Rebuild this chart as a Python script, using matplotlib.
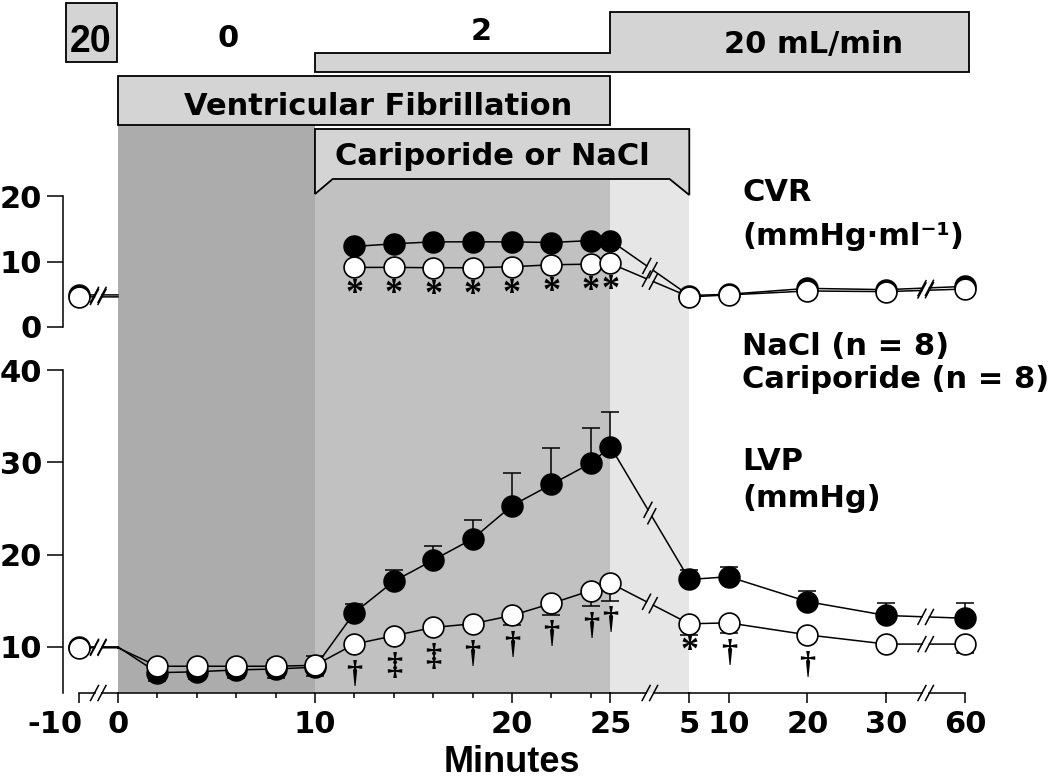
import matplotlib
matplotlib.use("Agg")
import matplotlib.pyplot as plt
import numpy as np
from matplotlib import font_manager
from matplotlib.patches import Polygon, Rectangle

nan = float("nan")

# sampling times, minutes (baseline, VF/CPR, recovery after defibrillation)
base_time = -10
vf_times = [2, 4, 6, 8, 10, 12, 14, 16, 18, 20, 22, 24, 25]
rec_times = [5, 10, 20, 30, 60]

# coronary vascular resistance (no flow, no CVR during 2-10 min)
cvr_nacl_base, cvr_cari_base = 4.9, 4.6
cvr_nacl_vf = [nan] * 5 + [12.3, 12.7, 13.0, 13.0, 13.0, 12.9, 13.2, 13.2]
cvr_cari_vf = [nan] * 5 + [9.1, 9.1, 9.05, 9.05, 9.2, 9.5, 9.6, 9.7]
cvr_nacl_rec = [4.8, 5.0, 5.9, 5.7, 6.2]
cvr_cari_rec = [4.6, 4.9, 5.5, 5.4, 5.8]
cvr_sig_vf = [""] * 5 + ["*"] * 8

# left ventricular pressure
lvp_nacl_base, lvp_cari_base = 10.0, 9.9
lvp_nacl_vf = [7.2, 7.3, 7.5, 7.6, 7.8, 13.7, 17.1, 19.4, 21.7, 25.3, 27.6, 29.9, 31.7]
lvp_cari_vf = [7.9, 7.9, 7.9, 7.9, 8.0, 10.3, 11.2, 12.1, 12.5, 13.4, 14.7, 16.1, 16.9]
lvp_nacl_rec = [17.3, 17.6, 14.9, 13.4, 13.1]
lvp_cari_rec = [12.5, 12.6, 11.3, 10.3, 10.3]
# SEM, one-sided as drawn in the original
lvp_nacl_lo_vf = [0.9, 0.8, 0.9, 1.0, 1.0] + [0] * 8
lvp_nacl_hi_vf = [0] * 5 + [0.9, 1.2, 1.55, 2.1, 3.5, 3.9, 3.8, 3.8]
lvp_nacl_hi_rec = [1.0, 1.1, 1.1, 1.4, 1.7]
lvp_cari_hi_vf = [0.3, 0.4, 0.6, 0.7, 1.0] + [0] * 8
lvp_cari_lo_vf = [0] * 9 + [1.0, 1.2, 1.7, 1.9]
lvp_cari_lo_rec = [1.2, 1.1, 0, 0, 1.0]
lvp_sig_vf = [""] * 5 + ["\u2020", "\u2021", "\u2021", "\u2020", "\u2020", "\u2020", "\u2020", "\u2020"]
lvp_sig_rec = ["*", "\u2020", "\u2020", "", ""]

xtick_vf = [0, 10, 20, 25]
xminor_vf = [2, 4, 6, 8, 12, 14, 16, 18, 22, 24]

W, H = 1050, 781
BREAKS = [-1.0, 27.0, 41.0]
XLIM = (-2.79, 44.01)

plt.rcParams["font.family"] = "DejaVu Sans"
plt.rcParams["font.weight"] = "bold"
names = {f.name for f in font_manager.fontManager.ttflist}
NARROW = "Liberation Sans Narrow" in names


def tpos(t, phase):
    # -10 sits before the first axis break; recovery runs on its own compressed scale
    if phase == "base":
        return -2.0
    if phase == "vf":
        return float(t)
    return 27.0 + 0.4 * min(t, 40)


def series(base, vf, rec):
    xs = [tpos(base_time, "base"), 0.0] + [tpos(t, "vf") for t in vf_times] + [tpos(t, "rec") for t in rec_times]
    ys = [base, base] + list(vf) + list(rec)
    return np.array(xs), np.array(ys, float)


def slash(ax, x, y):
    T = ax.transData
    p = T.transform((x, y))
    d = 8.5 * np.array([np.cos(np.radians(62)), np.sin(np.radians(62))])
    pts = T.inverted().transform([p - d, p + d])
    ax.plot(pts[:, 0], pts[:, 1], color="black", lw=1.1, zorder=2, clip_on=False)


def broken_line(ax, xs, ys, gap=7.5, lw=1.1):
    T = ax.transData
    sx, sy = [], []
    for i in range(len(xs) - 1):
        x0, y0, x1, y1 = xs[i], ys[i], xs[i + 1], ys[i + 1]
        if not (np.isfinite(y0) and np.isfinite(y1)):
            continue
        mid = 0.5 * (x0 + x1)
        if any(abs(mid - b) < 1e-6 for b in BREAKS):
            p0, p1 = T.transform((x0, y0)), T.transform((x1, y1))
            f = gap / 2 / np.hypot(*(p1 - p0))
            for a, b in ((0, 0.5 - f), (0.5 + f, 1)):
                sx += [x0 + (x1 - x0) * a, x0 + (x1 - x0) * b, nan]
                sy += [y0 + (y1 - y0) * a, y0 + (y1 - y0) * b, nan]
            for a in (0.5 - f, 0.5 + f):
                slash(ax, x0 + (x1 - x0) * a, y0 + (y1 - y0) * a)
        else:
            sx += [x0, x1, nan]
            sy += [y0, y1, nan]
    ax.plot(sx, sy, color="black", lw=lw, zorder=2, clip_on=False)


def markers(ax, xs, ys, filled):
    keep = [0] + list(range(2, len(xs)))
    ax.plot(xs[keep], ys[keep], "o", ms=15, mfc="black" if filled else "white",
            mec="black", mew=1.2, zorder=4 if filled else 5, clip_on=False)


def sig(ax, xs, ys, lo, syms):
    per_unit = ax.transData.transform((0, 1))[1] - ax.transData.transform((0, 0))[1]
    for x, y, e, s in zip(xs, ys, lo, syms):
        if not s:
            continue
        low = max(10.5, e * per_unit)
        if s == "*":
            ax.annotate(s, (x, y), xytext=(0, -(low + 17) * 0.72), textcoords="offset points",
                        ha="center", va="center", fontsize=26, family="Liberation Serif",
                        fontweight="bold", zorder=6)
        else:
            ax.annotate(s, (x, y), xytext=(0, -(low + 20) * 0.72), textcoords="offset points",
                        ha="center", va="center", fontsize=23, family="Liberation Serif",
                        fontweight="bold", zorder=6)


fig = plt.figure(figsize=(W / 100, H / 100), dpi=100)
left, width = 63 / W, (985 - 63) / W

# background layer: x in axis positions, y in pixels from the top
bg = fig.add_axes([left, 0, width, 1], zorder=0)
bg.set_xlim(*XLIM)
bg.set_ylim(H, 0)
bg.axis("off")
bg.add_patch(Rectangle((0, 125), 10, 693 - 125, fc="#acacac", ec="none", zorder=1))
bg.add_patch(Rectangle((10, 129), 15, 693 - 129, fc="#c1c1c1", ec="none", zorder=1))
bg.add_patch(Rectangle((25, 179), 4, 693 - 179, fc="#e6e6e6", ec="none", zorder=1))
box = dict(fc="#d4d4d4", ec="black", lw=1.3, zorder=2)
bg.add_patch(Rectangle((-2.64, 3), 2.59, 59, **box))
bg.add_patch(Polygon([(10, 72), (10, 53), (25, 53), (25, 12), (43.2, 12), (43.2, 72)], **box))
bg.add_patch(Rectangle((0, 76), 25, 49, **box))
bg.add_patch(Polygon([(10, 129), (29, 129), (29, 195), (28, 179), (10.9, 179), (10, 194)], **box))
tk = dict(ha="center", va="baseline", fontsize=22, zorder=3)
bg.text(-1.37, 52, "20", family="Liberation Sans", fontsize=27, ha="center", va="baseline", zorder=3)
bg.text(5.58, 47, "0", **tk)
bg.text(18.43, 40, "2", **tk)
bg.text(35.33, 53, "20 mL/min", **tk)
bg.text(13.2, 115, "Ventricular Fibrillation", **tk)
bg.text(19.0, 165, "Cariporide or NaCl", **tk)


def px(x, y):
    return x / W, 1 - y / H


for (x, y), s in [((742, 201), "CVR"), ((742, 245), "(mmHg\u00b7ml\u207b\u00b9)"),
                  ((742, 355), "NaCl (n = 8)"), ((742, 388), "Cariporide (n = 8)"),
                  ((742, 470), "LVP"), ((742, 507), "(mmHg)")]:
    fig.text(*px(x, y), s, fontsize=22, ha="left", va="baseline")

ax_cvr = fig.add_axes([left, 1 - 327 / H, width, 131 / H], zorder=1)
ax_lvp = fig.add_axes([left, 1 - 693 / H, width, 323 / H], zorder=1)
for ax, lim, ticks in ((ax_cvr, (0, 20), [0, 10, 20]), (ax_lvp, (5, 40), [10, 20, 30, 40])):
    ax.set_facecolor("none")
    ax.set_xlim(*XLIM)
    ax.set_ylim(*lim)
    ax.set_yticks(ticks)
    for sp in ("top", "right", "bottom"):
        ax.spines[sp].set_visible(False)
    ax.spines["left"].set_linewidth(1.1)
    ax.tick_params(axis="y", length=11.5, width=1.1, pad=3.5, labelsize=22)
ax_cvr.set_xticks([])

# CVR panel
for base, vf, rec, filled in ((cvr_nacl_base, cvr_nacl_vf, cvr_nacl_rec, True),
                              (cvr_cari_base, cvr_cari_vf, cvr_cari_rec, False)):
    xs, ys = series(base, vf, rec)
    broken_line(ax_cvr, xs, ys)
    markers(ax_cvr, xs, ys, filled)
xs, ys = series(cvr_cari_base, cvr_cari_vf, cvr_cari_rec)
sig(ax_cvr, xs[2:2 + len(vf_times)], ys[2:2 + len(vf_times)], [0] * len(vf_times), cvr_sig_vf)

# LVP panel
xs_n, ys_n = series(lvp_nacl_base, lvp_nacl_vf, lvp_nacl_rec)
xs_c, ys_c = series(lvp_cari_base, lvp_cari_vf, lvp_cari_rec)
n_lo = [0, 0] + lvp_nacl_lo_vf + [0] * len(rec_times)
n_hi = [0, 0] + lvp_nacl_hi_vf + lvp_nacl_hi_rec
c_lo = [0, 0] + lvp_cari_lo_vf + lvp_cari_lo_rec
c_hi = [0, 0] + lvp_cari_hi_vf + [0] * len(rec_times)
for xs, ys, lo, hi, filled in ((xs_n, ys_n, n_lo, n_hi, True), (xs_c, ys_c, c_lo, c_hi, False)):
    broken_line(ax_lvp, xs, ys)
    idx = [i for i in range(len(xs)) if lo[i] > 0 or hi[i] > 0]
    ax_lvp.errorbar(xs[idx], ys[idx], yerr=[[lo[i] for i in idx], [hi[i] for i in idx]], fmt="none",
                    ecolor="black", elinewidth=1.1, capsize=6.5, capthick=1.1, zorder=3)
    markers(ax_lvp, xs, ys, filled)
sig(ax_lvp, xs_c[2:], ys_c[2:], c_lo[2:], lvp_sig_vf + lvp_sig_rec)

# broken x axis
ax_pos = [tpos(base_time, "base"), 0.0, 25.0, tpos(rec_times[0], "rec"),
          tpos(rec_times[-2], "rec"), tpos(rec_times[-1], "rec")]
broken_line(ax_lvp, np.array(ax_pos), np.full(len(ax_pos), 5.0), lw=1.1)
major = [tpos(t, "vf") for t in xtick_vf] + [tpos(t, "rec") for t in rec_times]
labels = [str(t) for t in xtick_vf] + [str(t) for t in rec_times]
ax_lvp.set_xticks([tpos(base_time, "base")] + major, [""] + labels)
ax_lvp.set_xticks(xminor_vf, minor=True)
ax_lvp.tick_params(axis="x", which="major", length=7.5, width=1.1, pad=5, labelsize=22)
ax_lvp.tick_params(axis="x", which="minor", length=3.6, width=1.1)
ax_lvp.annotate(str(base_time), (tpos(base_time, "base"), 5), xytext=(3, -12.5), textcoords="offset points",
                ha="right", va="top", fontsize=22, annotation_clip=False)
if NARROW:
    fig.text(*px(512, 772), "Minutes", family="Liberation Sans Narrow", fontsize=32, ha="center", va="baseline")
else:
    fig.text(*px(512, 772), "Minutes", family="Liberation Sans", fontsize=26, ha="center", va="baseline")

fig.savefig("out.png", dpi=100)
